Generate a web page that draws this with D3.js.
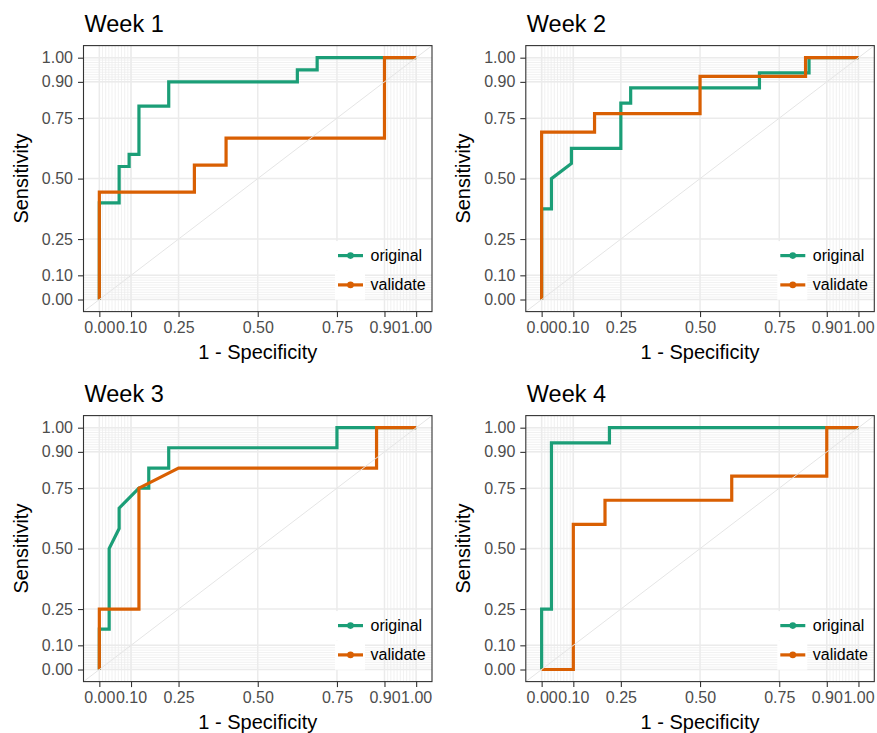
<!DOCTYPE html>
<html>
<head>
<meta charset="utf-8">
<script src="https://cdn.jsdelivr.net/npm/d3@7/dist/d3.min.js"></script>
<style>
  html, body { margin: 0; padding: 0; background: #ffffff; }
  svg { display: block; }
  text { font-family: "Liberation Sans", Arial, Helvetica, sans-serif; }
</style>
</head>
<body>
<svg id="chart" width="877" height="733"></svg>
<script>
// Panel titles and series
const weeks = ["Week 1", "Week 2", "Week 3", "Week 4"];
const seriesNames = ["original", "validate"];
const seriesColors = ["#1B9E77", "#D95F02"];

// Axis breaks (major labelled, minor unlabelled)
const majorBreaks = [0, 0.1, 0.25, 0.5, 0.75, 0.9, 1];
const minorBreaks = [0, 0.01, 0.02, 0.03, 0.04, 0.05, 0.06, 0.07, 0.08, 0.09, 0.1,
                     0.9, 0.91, 0.92, 0.93, 0.94, 0.95, 0.96, 0.97, 0.98, 0.99, 1];
const xTitle = "1 - Specificity";
const yTitle = "Sensitivity";

// ROC curve vertices: false positive fraction / true positive fraction
const week1OriginalFpr = [0, 0, 0.0625, 0.0625, 0.094, 0.094, 0.125, 0.125, 0.219, 0.219, 0.625, 0.625, 0.6875, 0.6875, 1];
const week1OriginalTpr = [0, 0.4, 0.4, 0.55, 0.55, 0.6, 0.6, 0.8, 0.8, 0.9, 0.9, 0.95, 0.95, 1, 1];
const week1ValidateFpr = [0, 0, 0.3, 0.3, 0.4, 0.4, 0.9, 0.9, 1];
const week1ValidateTpr = [0, 0.444, 0.444, 0.556, 0.556, 0.667, 0.667, 1, 1];

const week2OriginalFpr = [0, 0, 0.031, 0.031, 0.094, 0.094, 0.25, 0.25, 0.281, 0.281, 0.6875, 0.6875, 0.844, 0.844, 1];
const week2OriginalTpr = [0, 0.375, 0.375, 0.5, 0.5625, 0.625, 0.625, 0.8125, 0.8125, 0.875, 0.875, 0.9375, 0.9375, 1, 1];
const week2ValidateFpr = [0, 0, 0.167, 0.167, 0.5, 0.5, 0.833, 0.833, 1];
const week2ValidateTpr = [0, 0.692, 0.692, 0.769, 0.769, 0.923, 0.923, 1, 1];

const week3OriginalFpr = [0, 0, 0.031, 0.031, 0.0625, 0.0625, 0.125, 0.156, 0.156, 0.219, 0.219, 0.75, 0.75, 1];
const week3OriginalTpr = [0, 0.167, 0.167, 0.5, 0.583, 0.667, 0.75, 0.75, 0.833, 0.833, 0.917, 0.917, 1, 1];
const week3ValidateFpr = [0, 0, 0.125, 0.125, 0.25, 0.875, 0.875, 1];
const week3ValidateTpr = [0, 0.25, 0.25, 0.75, 0.833, 0.833, 1, 1];

const week4OriginalFpr = [0, 0, 0.031, 0.031, 0.214, 0.214, 1];
const week4OriginalTpr = [0, 0.25, 0.25, 0.9375, 0.9375, 1, 1];
const week4ValidateFpr = [0, 0.1, 0.1, 0.2, 0.2, 0.6, 0.6, 0.9, 0.9, 1];
const week4ValidateTpr = [0, 0, 0.6, 0.6, 0.7, 0.7, 0.8, 0.8, 1, 1];

const curves = [
  [[week1OriginalFpr, week1OriginalTpr], [week1ValidateFpr, week1ValidateTpr]],
  [[week2OriginalFpr, week2OriginalTpr], [week2ValidateFpr, week2ValidateTpr]],
  [[week3OriginalFpr, week3OriginalTpr], [week3ValidateFpr, week3ValidateTpr]],
  [[week4OriginalFpr, week4OriginalTpr], [week4ValidateFpr, week4ValidateTpr]]
];

// Layout
const panelW = 348.5, panelH = 266;
const origins = [[83.5, 45.6], [525.8, 45.6], [83.5, 415.6], [525.8, 415.6]];
const domain = [-0.05, 1.05];

const svg = d3.select("#chart");
const fmt = d3.format(".2f");

weeks.forEach((title, i) => {
  const [ox, oy] = origins[i];
  const g = svg.append("g").attr("transform", `translate(${ox},${oy})`);
  const x = d3.scaleLinear().domain(domain).range([0, panelW]);
  const y = d3.scaleLinear().domain(domain).range([panelH, 0]);

  // panel background
  g.append("rect").attr("width", panelW).attr("height", panelH).attr("fill", "#ffffff");

  // minor grid
  const grid = g.append("g");
  grid.selectAll("line.mx").data(minorBreaks).join("line")
    .attr("x1", d => x(d)).attr("x2", d => x(d)).attr("y1", 0).attr("y2", panelH)
    .attr("stroke", "#EBEBEB").attr("stroke-width", 0.7);
  grid.selectAll("line.my").data(minorBreaks).join("line")
    .attr("y1", d => y(d)).attr("y2", d => y(d)).attr("x1", 0).attr("x2", panelW)
    .attr("stroke", "#EBEBEB").attr("stroke-width", 0.7);
  // major grid
  grid.selectAll("line.Mx").data(majorBreaks).join("line")
    .attr("x1", d => x(d)).attr("x2", d => x(d)).attr("y1", 0).attr("y2", panelH)
    .attr("stroke", "#EBEBEB").attr("stroke-width", 1.5);
  grid.selectAll("line.My").data(majorBreaks).join("line")
    .attr("y1", d => y(d)).attr("y2", d => y(d)).attr("x1", 0).attr("x2", panelW)
    .attr("stroke", "#EBEBEB").attr("stroke-width", 1.5);

  // ROC curves
  const line = d3.line().x(d => x(d[0])).y(d => y(d[1]));
  curves[i].forEach(([fpr, tpr], s) => {
    const pts = fpr.map((f, k) => [f, tpr[k]]);
    g.append("path").datum(pts).attr("d", line)
      .attr("fill", "none").attr("stroke", seriesColors[s])
      .attr("stroke-width", 3.2).attr("stroke-linejoin", "miter");
  });

  // reference diagonal across the whole panel
  g.append("line")
    .attr("x1", x(domain[0])).attr("y1", y(domain[0]))
    .attr("x2", x(domain[1])).attr("y2", y(domain[1]))
    .attr("stroke", "#E5E5E5").attr("stroke-width", 1);

  // legend inside the panel, bottom right
  const legend = g.append("g").attr("transform", `translate(${panelW - 97},${210})`);
  seriesNames.forEach((name, s) => {
    const row = legend.append("g").attr("transform", `translate(0,${s * 29.3})`);
    row.append("rect").attr("x", 0).attr("y", -14.5).attr("width", 30).attr("height", 29.3)
      .attr("fill", "#ffffff");
    row.append("line").attr("x1", 3).attr("x2", 28).attr("y1", 0).attr("y2", 0)
      .attr("stroke", seriesColors[s]).attr("stroke-width", 3.2);
    row.append("circle").attr("cx", 15.5).attr("cy", 0).attr("r", 3.3)
      .attr("fill", seriesColors[s]);
    row.append("text").attr("x", 35.5).attr("y", 0).attr("dy", "0.32em")
      .attr("font-size", 16).attr("fill", "#000000").text(name);
  });

  // panel border
  g.append("rect").attr("width", panelW).attr("height", panelH)
    .attr("fill", "none").attr("stroke", "#333333").attr("stroke-width", 1.1);

  // axes
  const xAxis = d3.axisBottom(x).tickValues(majorBreaks).tickFormat(fmt)
    .tickSize(5.5).tickPadding(4.5);
  const gx = g.append("g").attr("transform", `translate(0,${panelH})`).call(xAxis);
  const yAxis = d3.axisLeft(y).tickValues(majorBreaks).tickFormat(fmt)
    .tickSize(5.5).tickPadding(5);
  const gy = g.append("g").call(yAxis);
  [gx, gy].forEach(a => {
    a.select(".domain").remove();
    a.selectAll(".tick line").attr("stroke", "#333333").attr("stroke-width", 1.1);
    a.selectAll(".tick text").attr("fill", "#4D4D4D").attr("font-size", 16)
      .attr("font-family", "'Liberation Sans', Arial, Helvetica, sans-serif");
  });

  // axis titles
  g.append("text").attr("x", panelW / 2).attr("y", panelH + 47.5)
    .attr("text-anchor", "middle").attr("font-size", 20).attr("fill", "#000000").text(xTitle);
  g.append("text").attr("transform", `translate(${-56},${panelH / 2}) rotate(-90)`)
    .attr("text-anchor", "middle").attr("font-size", 20).attr("fill", "#000000").text(yTitle);

  // panel title
  g.append("text").attr("x", 1).attr("y", -13.3)
    .attr("font-size", 23.5).attr("fill", "#000000").text(title);
});
</script>
</body>
</html>
